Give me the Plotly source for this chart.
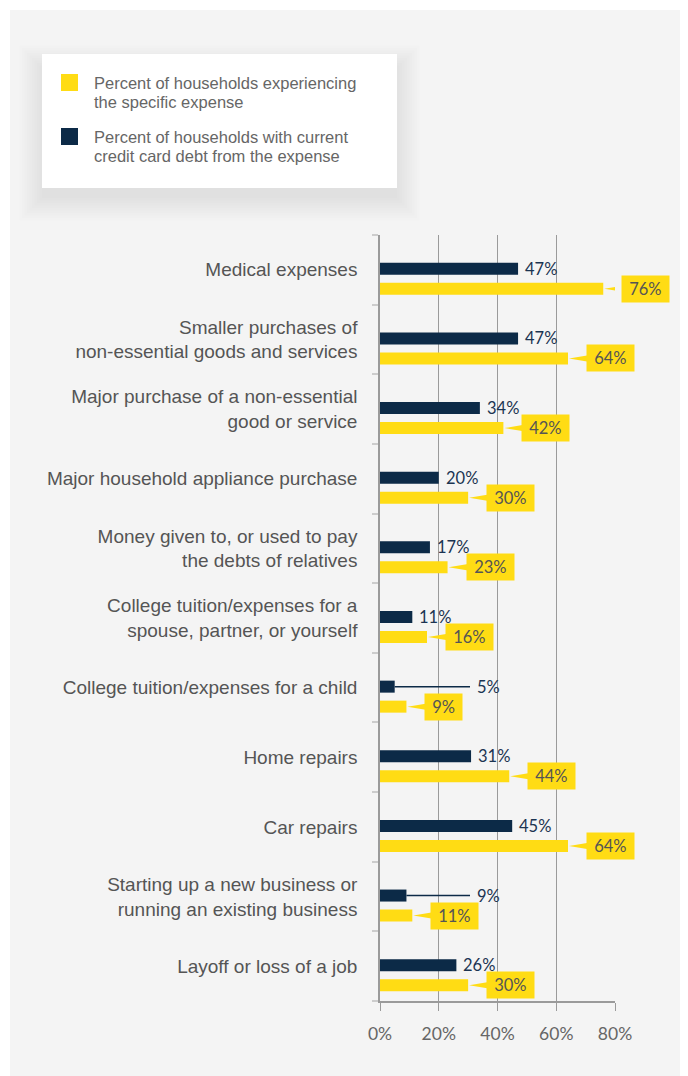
import plotly.graph_objects as go

# ---------------- data ----------------
categories = [
    "Medical expenses",
    "Smaller purchases of<br>non-essential goods and services",
    "Major purchase of a non-essential<br>good or service",
    "Major household appliance purchase",
    "Money given to, or used to pay<br>the debts of relatives",
    "College tuition/expenses for a<br>spouse, partner, or yourself",
    "College tuition/expenses for a child",
    "Home repairs",
    "Car repairs",
    "Starting up a new business or<br>running an existing business",
    "Layoff or loss of a job",
]
experiencing = [76, 64, 42, 30, 23, 16, 9, 44, 64, 11, 30]
with_debt = [47, 47, 34, 20, 17, 11, 5, 31, 45, 9, 26]
x_ticks = [0, 20, 40, 60, 80]
x_tick_labels = ["0%", "20%", "40%", "60%", "80%"]
legend_labels = [
    "Percent of households experiencing<br>the specific expense",
    "Percent of households with current<br>credit card debt from the expense",
]

# ---------------- style ----------------
OFF = 8                                 # page body margin
W, H = 688 - OFF, 1076 - OFF
L, R, T, B = 380 - OFF, 615 - OFF, 235 - OFF, 1001 - OFF
XMAX = 80
NAVY = "#0c2a47"
YELLOW = "#ffdc14"
GRID = "#9a9a9a"
PANEL = "#f4f4f4"
LABEL_FONT = "Liberation Sans, Arial, sans-serif"
NUM_FONT = "Lato, Open Sans, sans-serif"

px_x = (R - L) / XMAX                  # pixels per percent
px_y = (B - T) / len(categories)       # pixels per category
BAR_H = 12 / px_y
DARK_OFF = -1 / px_y
YEL_OFF = 19 / px_y
LEADER_MIN = 90 / px_x                 # small values get a leader line to here


def px2paper(x, y):
    """reference-screenshot pixel -> paper coords"""
    x -= OFF
    y -= OFF
    return (x - L) / (R - L), (B - y) / (B - T)


n = len(categories)
pos = list(range(n))
dark_y = [p + DARK_OFF for p in pos]
yel_y = [p + YEL_OFF for p in pos]

fig = go.Figure()

# wedges (callout tails) for yellow labels
wx, wy = [], []
for v, yy in zip(experiencing, yel_y):
    tip = v + 1 / px_x
    base = v + 22 / px_x
    h = 3.5 / px_y
    wx += [tip, base, base, tip, None]
    wy += [yy, yy - h, yy + h, yy, None]
fig.add_trace(go.Scatter(x=wx, y=wy, mode="lines", fill="toself",
                         fillcolor=YELLOW, line=dict(width=0, color=YELLOW),
                         hoverinfo="skip", showlegend=False))

# leader lines for small dark values
lx, ly = [], []
for v, yy in zip(with_debt, dark_y):
    if v < 10:
        lx += [v, LEADER_MIN, None]
        ly += [yy, yy, None]
fig.add_trace(go.Scatter(x=lx, y=ly, mode="lines", line=dict(width=1.5, color=NAVY),
                         hoverinfo="skip", showlegend=False))

fig.add_trace(go.Bar(x=with_debt, y=dark_y, orientation="h", width=BAR_H,
                     marker=dict(color=NAVY, line=dict(width=0)), showlegend=False))
fig.add_trace(go.Bar(x=experiencing, y=yel_y, orientation="h", width=BAR_H,
                     marker=dict(color=YELLOW, line=dict(width=0)), showlegend=False))

annotations = []
for v, yy in zip(with_debt, dark_y):
    xv = LEADER_MIN if v < 10 else v
    annotations.append(dict(x=xv, y=yy, xref="x", yref="y", text=f"{v}%",
                            showarrow=False, xanchor="left", yanchor="middle",
                            xshift=5, font=dict(family=NUM_FONT, size=16.5, color="#1b3452")))
for v, yy in zip(experiencing, yel_y):
    annotations.append(dict(x=v, y=yy, xref="x", yref="y",
                            text=f"\u00a0{v}%\u00a0", showarrow=False,
                            xanchor="left", yanchor="middle", xshift=18,
                            bgcolor=YELLOW, borderpad=3,
                            font=dict(family=NUM_FONT, size=16.5, color="#555555")))

shapes = []
# gray panel
x0, y0 = px2paper(10, 10)
x1, y1 = px2paper(688, 1076)
shapes.append(dict(type="rect", xref="paper", yref="paper", x0=x0, y0=y1, x1=x1, y1=y0,
                   fillcolor=PANEL, line=dict(width=0), layer="below"))
# legend shadow (soft, mostly below the box)
lb = (42, 54, 397, 188)
for k in range(10):
    e = 2.5 * k
    sx0, sy0 = px2paper(lb[0] - e, lb[1] + 14 - e)
    sx1, sy1 = px2paper(lb[2] + e, lb[3] + 10 + e)
    shapes.append(dict(type="rect", xref="paper", yref="paper", x0=sx0, y0=sy1, x1=sx1, y1=sy0,
                       fillcolor="rgba(0,0,0,0.009)", line=dict(width=0), layer="below"))
bx0, by0 = px2paper(lb[0], lb[1])
bx1, by1 = px2paper(lb[2], lb[3])
shapes.append(dict(type="rect", xref="paper", yref="paper", x0=bx0, y0=by1, x1=bx1, y1=by0,
                   fillcolor="white", line=dict(width=0), layer="below"))
# legend swatches and text
for i, (col, txt) in enumerate(zip([YELLOW, NAVY], legend_labels)):
    top = 74 + i * 54
    sx0, sy0 = px2paper(61, top)
    sx1, sy1 = px2paper(78, top + 17)
    shapes.append(dict(type="rect", xref="paper", yref="paper", x0=sx0, y0=sy1, x1=sx1, y1=sy0,
                       fillcolor=col, line=dict(width=0)))
    for j, line in enumerate(txt.split("<br>")):
        tx, ty = px2paper(92, top + 9 + 19 * j)
        annotations.append(dict(x=tx, y=ty, xref="paper", yref="paper", text=line,
                                showarrow=False, xanchor="left", yanchor="middle", align="left",
                                font=dict(family=LABEL_FONT, size=16.5, color="#666666")))

fig.update_layout(
    width=W, height=H,
    margin=dict(l=L, r=W - R, t=T, b=H - B, pad=0),
    paper_bgcolor="white",
    plot_bgcolor="rgba(0,0,0,0)",
    barmode="overlay",
    showlegend=False,
    shapes=shapes,
    annotations=annotations,
    xaxis=dict(range=[0, XMAX], tickvals=x_ticks, ticktext=x_tick_labels,
               showgrid=True, gridcolor=GRID, gridwidth=1, zeroline=False,
               showline=True, linecolor=GRID, linewidth=1.5,
               ticks="outside", ticklen=8, tickcolor=GRID, tickwidth=1,
               ticklabelstandoff=8,
               tickfont=dict(family=NUM_FONT, size=17.5, color="#666666"),
               fixedrange=True),
    yaxis=dict(range=[n - 0.5, -0.5], tickvals=pos, ticktext=categories,
               showgrid=False, zeroline=False, showline=True, linecolor=GRID,
               linewidth=1.5, ticks="", ticklabelstandoff=17,
               tickfont=dict(family=LABEL_FONT, size=19, color="#555555"),
               minor=dict(tickvals=[p - 0.5 for p in pos] + [n - 0.5],
                          ticks="outside", ticklen=6, tickcolor="#cccccc", tickwidth=2,
                          showgrid=False),
               fixedrange=True),
)

fig.write_html("out.html")
